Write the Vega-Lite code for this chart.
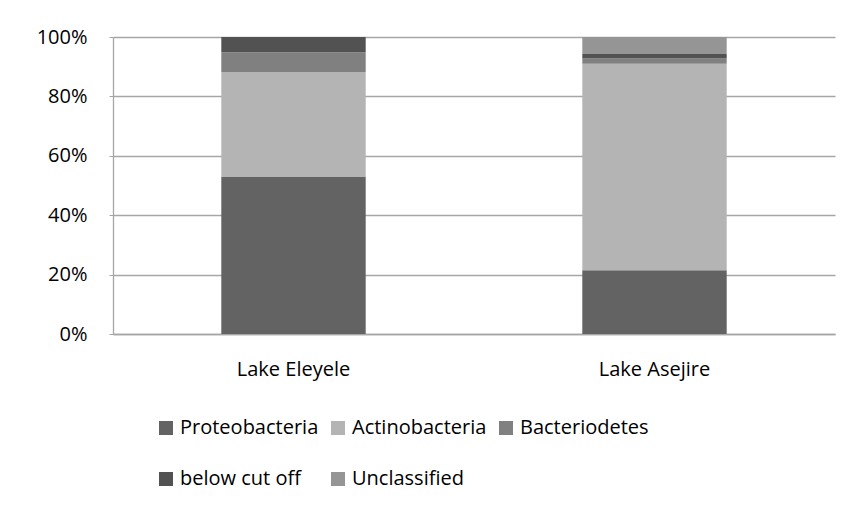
{
  "$schema": "https://vega.github.io/schema/vega-lite/v6.json",
  "width": 722,
  "height": 297,
  "autosize": {"type": "none"},
  "padding": {"left": 113, "top": 37, "right": 17, "bottom": 172},
  "background": "white",
  "config": {
    "font": "Open Sans",
    "view": {"stroke": null},
    "axis": {"labelFont": "Open Sans", "labelColor": "#000000"}
  },
  "data": {
    "values": [
      {"lake": "Lake Eleyele", "phylum": "Proteobacteria", "rank": 1, "share": 52.9},
      {"lake": "Lake Eleyele", "phylum": "Actinobacteria", "rank": 2, "share": 35.3},
      {"lake": "Lake Eleyele", "phylum": "Bacteriodetes", "rank": 3, "share": 6.7},
      {"lake": "Lake Eleyele", "phylum": "below cut off", "rank": 4, "share": 5.1},
      {"lake": "Lake Eleyele", "phylum": "Unclassified", "rank": 5, "share": 0},
      {"lake": "Lake Asejire", "phylum": "Proteobacteria", "rank": 1, "share": 21.5},
      {"lake": "Lake Asejire", "phylum": "Actinobacteria", "rank": 2, "share": 69.5},
      {"lake": "Lake Asejire", "phylum": "Bacteriodetes", "rank": 3, "share": 1.8},
      {"lake": "Lake Asejire", "phylum": "below cut off", "rank": 4, "share": 1.5},
      {"lake": "Lake Asejire", "phylum": "Unclassified", "rank": 5, "share": 5.7}
    ]
  },
  "mark": {"type": "bar"},
  "encoding": {
    "x": {
      "field": "lake",
      "type": "nominal",
      "sort": ["Lake Eleyele", "Lake Asejire"],
      "scale": {"paddingInner": 0.6, "paddingOuter": 0.3},
      "axis": {
        "title": null,
        "labelAngle": 0,
        "labelFontSize": 20,
        "labelPadding": 25,
        "ticks": false,
        "domainColor": "#a6a6a6",
        "domainWidth": 1.3,
        "grid": false
      }
    },
    "y": {
      "field": "share",
      "type": "quantitative",
      "stack": "normalize",
      "scale": {"domain": [0, 1]},
      "axis": {
        "title": null,
        "values": [0, 0.2, 0.4, 0.6, 0.8, 1],
        "format": ".0%",
        "labelFontSize": 20,
        "labelPadding": 22,
        "tickSize": 4,
        "tickColor": "#a6a6a6",
        "domainColor": "#a6a6a6",
        "domainWidth": 1.3,
        "gridColor": "#a6a6a6",
        "gridWidth": 1.3
      }
    },
    "color": {
      "field": "phylum",
      "type": "nominal",
      "scale": {
        "domain": ["Proteobacteria", "Actinobacteria", "Bacteriodetes", "below cut off", "Unclassified"],
        "range": ["#636363", "#b4b4b4", "#808080", "#525252", "#959595"]
      },
      "legend": {
        "title": null,
        "orient": "none",
        "legendX": 43,
        "legendY": 381,
        "direction": "horizontal",
        "columns": 3,
        "columnPadding": 9,
        "rowPadding": 31,
        "symbolType": "square",
        "symbolSize": 196,
        "symbolStrokeWidth": 0,
        "labelFontSize": 20,
        "labelFont": "Open Sans",
        "labelColor": "#000000",
        "labelOffset": 4
      }
    },
    "order": {"field": "rank", "type": "quantitative"}
  }
}
